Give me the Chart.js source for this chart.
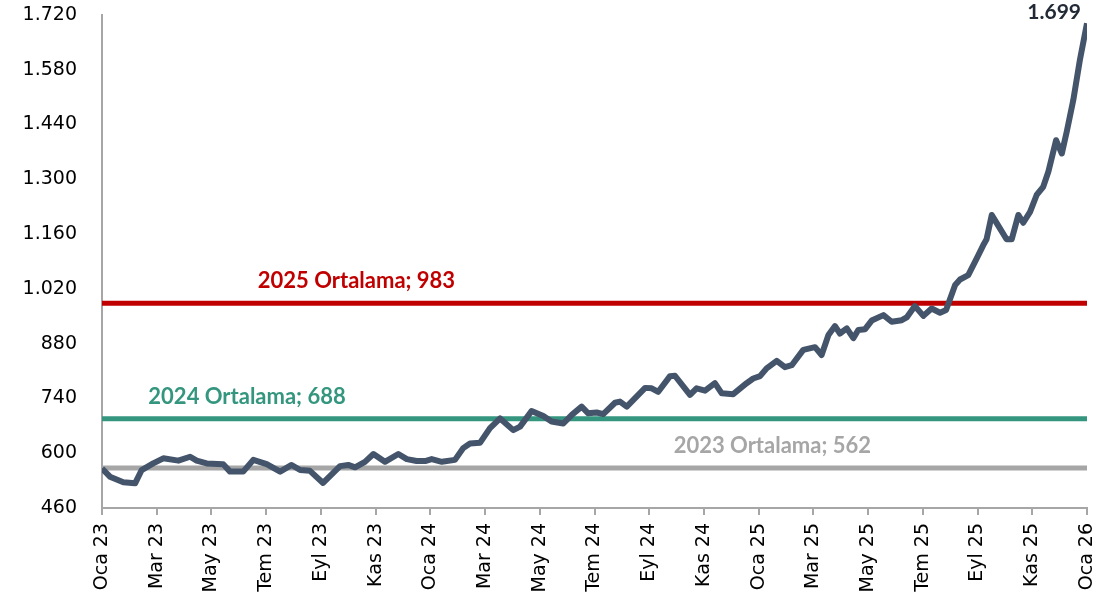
<!DOCTYPE html>
<html>
<head>
<meta charset="utf-8">
<script src="https://cdn.jsdelivr.net/npm/chart.js@4.4.1/dist/chart.umd.min.js"></script>
<style>
  html, body { margin: 0; padding: 0; background: #fff; }
  #wrap { width: 1120px; height: 599px; }
</style>
</head>
<body>
<div id="wrap"><canvas id="c"></canvas></div>
<script>
// x ekseni: Oca 23'ten itibaren ay (0 = Oca 23, 36 = Oca 26)
const tickLabels = ['Oca 23','Mar 23','May 23','Tem 23','Eyl 23','Kas 23',
  'Oca 24','Mar 24','May 24','Tem 24','Eyl 24','Kas 24',
  'Oca 25','Mar 25','May 25','Tem 25','Eyl 25','Kas 25','Oca 26'];

const months = [0,0.29,0.78,1.21,1.45,1.87,2.24,2.79,3.22,3.46,3.83,4.43,4.68,5.16,5.53,6.02,6.51,6.93,7.24,7.60,
  8.08,8.70,9.00,9.25,9.61,9.92,10.34,10.83,11.14,11.50,11.81,12.05,12.42,12.90,13.20,13.45,13.82,14.18,14.55,15.03,
  15.28,15.70,16.13,16.43,16.86,17.17,17.53,17.77,18.08,18.32,18.75,18.93,19.18,19.85,20.09,20.33,20.76,20.94,21.49,21.73,
  22.04,22.40,22.65,23.07,23.56,23.80,24.05,24.29,24.66,24.96,25.21,25.63,26.06,26.30,26.55,26.79,26.97,27.22,27.46,27.64,
  27.89,28.13,28.56,28.86,29.23,29.41,29.71,30.02,30.32,30.63,30.85,31.18,31.36,31.66,31.97,32.21,32.33,32.52,32.70,33.06,
  33.25,33.49,33.67,33.92,34.16,34.40,34.59,34.87,35.08,35.26,35.50,35.74,36];

const values = [561,540,526,523,557,574,587,581,591,581,574,572,553,553,583,572,553,570,557,555,
  524,567,570,564,578,598,578,598,585,580,580,585,578,583,613,625,627,664,689,659,
  668,708,695,681,676,698,719,702,704,700,729,732,719,767,766,757,797,798,749,766,
  760,779,753,751,779,791,797,817,836,820,825,864,871,851,902,925,906,919,894,915,
  917,939,953,936,940,947,976,951,970,959,966,1030,1044,1055,1098,1132,1147,1209,1188,1147,
  1147,1209,1189,1217,1260,1281,1320,1400,1366,1422,1503,1605,1699];

const avgLabels = ['2023 Ortalama; 562','2024 Ortalama; 688','2025 Ortalama; 983'];
const avgValues = [562, 688, 983];
const avgColors = ['#A6A6A6', '#35967F', '#C00000'];
const avgLabelMonth = [24.5, 5.3, 9.3];

const yTicks = [460,600,740,880,1020,1160,1300,1440,1580,1720];

function fmt(v) {
  return String(v).replace(/\B(?=(\d{3})+(?!\d))/g, '.');
}

const series = months.map((m, i) => ({ x: m, y: values[i] }));

const avgSets = avgValues.map((v, i) => ({
  label: avgLabels[i],
  data: [{ x: 0, y: v }, { x: 36, y: v }],
  borderColor: avgColors[i],
  borderWidth: 5,
  pointRadius: 0,
  order: 2
}));

const labelPlugin = {
  id: 'labels',
  afterDatasetsDraw(chart) {
    const ctx = chart.ctx;
    const xs = chart.scales.x, ys = chart.scales.y;
    ctx.save();
    ctx.font = 'bold 22px Lato';
    ctx.textAlign = 'center';
    ctx.textBaseline = 'middle';
    avgValues.forEach((v, i) => {
      ctx.fillStyle = avgColors[i];
      ctx.fillText(avgLabels[i], xs.getPixelForValue(avgLabelMonth[i]), ys.getPixelForValue(v) - 22);
    });
    const last = values.length - 1;
    ctx.font = 'bold 21px Lato';
    ctx.fillStyle = '#222A35';
    ctx.textAlign = 'right';
    ctx.fillText(fmt(values[last]), xs.getPixelForValue(months[last]) - 6, ys.getPixelForValue(values[last]) - 11);
    ctx.restore();
  }
};

new Chart(document.getElementById('c'), {
  type: 'line',
  data: {
    datasets: [{
      label: 'Seri',
      data: series,
      borderColor: '#44546A',
      borderWidth: 6,
      pointRadius: 0,
      tension: 0,
      borderJoinStyle: 'round',
      order: 1
    }, ...avgSets]
  },
  options: {
    responsive: true,
    maintainAspectRatio: false,
    animation: false,
    layout: { padding: { top: 15, right: 33, left: 0, bottom: 0 } },
    plugins: { legend: { display: false }, tooltip: { enabled: false } },
    scales: {
      x: {
        type: 'linear',
        min: 0,
        max: 36,
        afterBuildTicks(scale) {
          scale.ticks = tickLabels.map((t, i) => ({ value: i * 2 }));
        },
        afterFit(scale) { scale.height = 91; },
        ticks: {
          autoSkip: false,
          minRotation: 90,
          maxRotation: 90,
          color: '#000',
          font: { family: 'DejaVu Sans', size: 19 },
          padding: 8,
          callback: (v) => tickLabels[Math.round(v / 2)]
        },
        grid: { display: true, drawOnChartArea: false, drawTicks: true, tickLength: 7, color: '#A6A6A6', lineWidth: 2 },
        border: { display: true, color: '#A6A6A6', width: 2 }
      },
      y: {
        min: 460,
        max: 1720,
        afterBuildTicks(scale) {
          scale.ticks = yTicks.map(v => ({ value: v }));
        },
        afterFit(scale) { scale.width = 102; },
        ticks: {
          color: '#000',
          font: { family: 'DejaVu Sans', size: 19, lineHeight: 0.7 },
          padding: 0,
          callback: (v) => fmt(v)
        },
        grid: { display: true, drawOnChartArea: false, drawTicks: true, tickLength: 25, color: 'rgba(0,0,0,0)' },
        border: { display: true, color: '#A6A6A6', width: 2 }
      }
    }
  },
  plugins: [labelPlugin]
});
</script>
</body>
</html>
